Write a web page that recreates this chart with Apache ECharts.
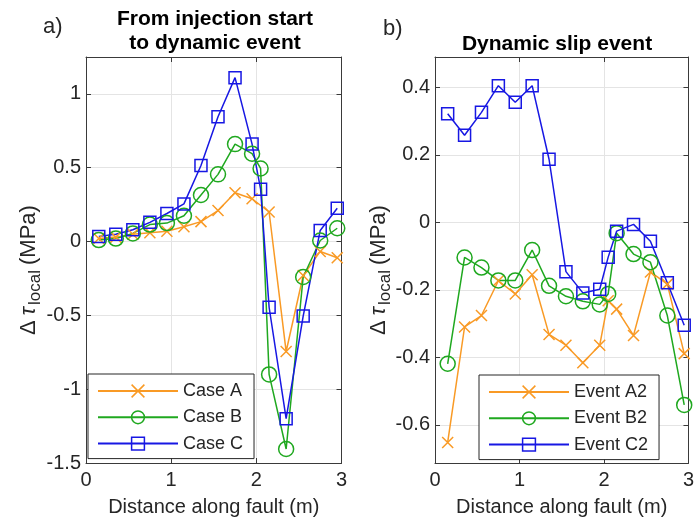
<!DOCTYPE html>
<html><head><meta charset="utf-8">
<script src="https://cdn.jsdelivr.net/npm/echarts@6/dist/echarts.min.js"></script>
<style>html,body{margin:0;padding:0;background:#fff}#c{width:697px;height:522px}</style>
</head><body><div id="c"></div>
<script>
// ---- data ----
const xTicks = [0, 1, 2, 3];
const yTicksLeft = [-1.5, -1, -0.5, 0, 0.5, 1];
const yTicksRight = [-0.6, -0.4, -0.2, 0, 0.2, 0.4];

const namesLeft = ['Case A', 'Case B', 'Case C'];
const namesRight = ['Event A2', 'Event B2', 'Event C2'];

const xCaseA = [0.15,0.35,0.55,0.75,0.95,1.15,1.35,1.55,1.75,1.95,2.15,2.35,2.55,2.75,2.95];
const yCaseA = [0.02,0.03,0.05,0.06,0.07,0.10,0.135,0.21,0.33,0.29,0.20,-0.745,-0.23,-0.067,-0.11];
const xCaseB = [0.15,0.35,0.55,0.75,0.95,1.15,1.35,1.55,1.75,1.95,2.05,2.15,2.35,2.55,2.75,2.95];
const yCaseB = [0.01,0.02,0.055,0.115,0.125,0.175,0.315,0.455,0.66,0.595,0.495,-0.9,-1.405,-0.24,0.007,0.09];
const xCaseC = [0.15,0.35,0.55,0.75,0.95,1.15,1.35,1.55,1.75,1.95,2.05,2.15,2.35,2.55,2.75,2.95];
const yCaseC = [0.035,0.05,0.08,0.13,0.19,0.255,0.515,0.845,1.11,0.66,0.355,-0.445,-1.2,-0.505,0.075,0.225];

const xEventA2 = [0.15,0.35,0.55,0.75,0.95,1.15,1.35,1.55,1.75,1.95,2.05,2.15,2.35,2.55,2.75,2.95];
const yEventA2 = [-0.652,-0.31,-0.276,-0.173,-0.212,-0.155,-0.332,-0.364,-0.416,-0.364,-0.232,-0.257,-0.335,-0.147,-0.183,-0.389];
const xEventB2 = [0.15,0.35,0.55,0.75,0.95,1.15,1.35,1.55,1.75,1.95,2.05,2.15,2.35,2.55,2.75,2.95];
const yEventB2 = [-0.419,-0.104,-0.134,-0.172,-0.172,-0.082,-0.188,-0.219,-0.234,-0.243,-0.212,-0.032,-0.094,-0.118,-0.276,-0.541];
const xEventC2 = [0.15,0.35,0.55,0.75,0.95,1.15,1.35,1.55,1.75,1.95,2.05,2.15,2.35,2.55,2.75,2.95];
const yEventC2 = [0.322,0.258,0.326,0.405,0.356,0.405,0.187,-0.146,-0.209,-0.198,-0.103,-0.026,-0.006,-0.056,-0.179,-0.305];

// ---- style ----
const FONT = '"Liberation Sans", Arial, Helvetica, sans-serif';
const TXT = '#262626';
const AX = '#3a3a3a';
const GRIDC = '#e4e4e4';
const colA = '#F99A25', colB = '#1FA81F', colC = '#1717E3';
const crossPath = 'path://M0,0L10,10M0,10L10,0';

const isTick = (list, v) => list.some(t => Math.abs(t - v) < 1e-6);

function xAxesFor(gi) {
  return [
    { gridIndex: gi, type: 'value', min: 0, max: 3, interval: 1, position: 'bottom',
      axisLine: { show: true, onZero: false, lineStyle: { color: AX, width: 1 } },
      axisTick: { show: true, inside: true, length: 5, lineStyle: { color: AX } },
      axisLabel: { margin: 7, color: TXT, fontSize: 20, fontFamily: FONT,
        formatter: v => isTick(xTicks, v) ? String(v) : '' },
      splitLine: { show: true, lineStyle: { color: GRIDC, width: 1 } },
      name: 'Distance along fault (m)', nameLocation: 'middle', nameGap: 34,
      nameTextStyle: { color: TXT, fontSize: 20, fontFamily: FONT, verticalAlign: 'top' } },
    { gridIndex: gi, type: 'value', min: 0, max: 3, interval: 1, position: 'top',
      axisLine: { show: true, onZero: false, lineStyle: { color: AX, width: 1 } },
      axisTick: { show: true, inside: true, length: 5, lineStyle: { color: AX } },
      axisLabel: { show: false }, splitLine: { show: false } }
  ];
}
function yAxesFor(gi, min, max, interval, ticks) {
  const base = { gridIndex: gi, type: 'value', min: min, max: max };
  if (interval) base.interval = interval; else base.splitNumber = 6;
  return [
    Object.assign({}, base, { position: 'left',
      axisLine: { show: true, onZero: false, lineStyle: { color: AX, width: 1 } },
      axisTick: { show: true, inside: true, length: 5, lineStyle: { color: AX } },
      axisLabel: { margin: 5, color: TXT, fontSize: 20, fontFamily: FONT,
        showMinLabel: true, showMaxLabel: true,
        formatter: v => isTick(ticks, v) ? String(Math.round(v * 10) / 10) : '' },
      splitLine: { show: true, lineStyle: { color: GRIDC, width: 1 } } }),
    Object.assign({}, base, { position: 'right',
      axisLine: { show: true, onZero: false, lineStyle: { color: AX, width: 1 } },
      axisTick: { show: true, inside: true, length: 5, lineStyle: { color: AX } },
      axisLabel: { show: false }, splitLine: { show: false } })
  ];
}
function mk(name, xs, ys, color, symbol, size, ai) {
  return { name: name, type: 'line', xAxisIndex: ai, yAxisIndex: ai,
    data: xs.map((x, i) => [x, ys[i]]),
    symbol: symbol, symbolSize: size, showAllSymbol: true, clip: false,
    lineStyle: { color: color, width: 1.5 },
    itemStyle: { color: 'transparent', borderColor: color, borderWidth: 1.5 },
    emphasis: { disabled: true }, silent: true };
}
function legendFor(names, left, top) {
  return { data: names, orient: 'vertical', left: left, top: top,
    itemWidth: 80, itemHeight: 16, itemGap: 8.3, padding: [8, 11, 6, 9],
    borderColor: '#262626', borderWidth: 1, backgroundColor: '#fff', selectedMode: false,
    itemStyle: { borderWidth: 1.5 },
    textStyle: { fontSize: 18, color: TXT, fontFamily: FONT } };
}
const yLabelRich = {
  d: { fontSize: 22, fontFamily: FONT, fill: TXT, lineHeight: 30 },
  t: { fontSize: 22, fontFamily: FONT, fontStyle: 'italic', fill: TXT, lineHeight: 30, padding: [0, 2, 0, 5] },
  s: { fontSize: 17, fontFamily: FONT, fill: TXT, lineHeight: 14, verticalAlign: 'bottom', padding: [0, 5, 0, 0] },
  n: { fontSize: 22, fontFamily: FONT, fill: TXT, lineHeight: 30 }
};
function yLabel(x, y) {
  return { type: 'text', x: x, y: y, rotation: Math.PI / 2, silent: true,
    style: { text: '{d|Δ}{t|τ}{s|local}{n|(MPa)}', rich: yLabelRich,
      align: 'center', verticalAlign: 'middle', fill: TXT } };
}

const chart = echarts.init(document.getElementById('c'), null, { renderer: 'canvas' });
chart.setOption({
  animation: false,
  backgroundColor: '#fff',
  grid: [
    { left: 86, top: 57, width: 255.5, height: 407 },
    { left: 435, top: 57, width: 255.5, height: 407 }
  ],
  xAxis: [].concat(xAxesFor(0), xAxesFor(1)),
  yAxis: [].concat(yAxesFor(0, -1.5, 1.25, 0.5, yTicksLeft), yAxesFor(1, -0.713, 0.49, null, yTicksRight)),
  legend: [legendFor(namesLeft, 88, 374), legendFor(namesRight, 479, 375)],
  series: [
    mk(namesLeft[0], xCaseA, yCaseA, colA, crossPath, 11, 0),
    mk(namesLeft[1], xCaseB, yCaseB, colB, 'circle', 15, 0),
    mk(namesLeft[2], xCaseC, yCaseC, colC, 'rect', 12, 0),
    mk(namesRight[0], xEventA2, yEventA2, colA, crossPath, 11, 2),
    mk(namesRight[1], xEventB2, yEventB2, colB, 'circle', 15, 2),
    mk(namesRight[2], xEventC2, yEventC2, colC, 'rect', 12, 2)
  ],
  graphic: [
    { type: 'text', x: 43, y: 27, silent: true,
      style: { text: 'a)', font: '22px ' + FONT, fill: TXT, verticalAlign: 'middle' } },
    { type: 'text', x: 383, y: 29, silent: true,
      style: { text: 'b)', font: '22px ' + FONT, fill: TXT, verticalAlign: 'middle' } },
    { type: 'text', x: 215, y: 7, silent: true,
      style: { text: 'From injection start\nto dynamic event', font: 'bold 21px ' + FONT,
        lineHeight: 24, fill: '#000', align: 'center', verticalAlign: 'top' } },
    { type: 'text', x: 557, y: 34, silent: true,
      style: { text: 'Dynamic slip event', font: 'bold 21px ' + FONT,
        fill: '#000', align: 'center', verticalAlign: 'top' } },
    yLabel(29, 270),
    yLabel(379, 270)
  ]
});
</script></body></html>
